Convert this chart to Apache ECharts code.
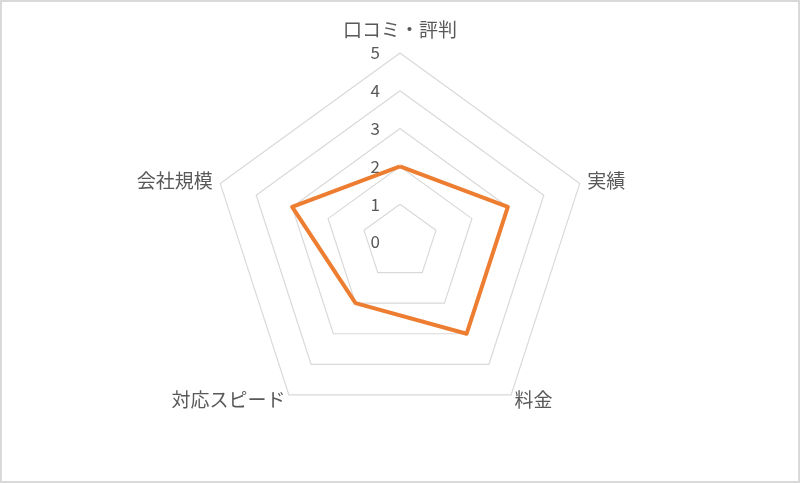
<!DOCTYPE html>
<html>
<head>
<meta charset="utf-8">
<script src="https://cdn.jsdelivr.net/npm/echarts@6/dist/echarts.min.js"></script>
<style>
  html, body { margin: 0; padding: 0; background: #fff; }
  #chart { width: 800px; height: 483px; box-sizing: border-box; border: 2px solid #d9d9d9; }
</style>
</head>
<body>
<div id="chart"></div>
<script>
  // 項目と評価値（上から時計回り）
  var categories = ['口コミ・評判', '実績', '料金', '対応スピード', '会社規模'];
  var values = [2, 3, 3, 2, 3];
  var maxValue = 5;
  var nameGaps = [14, 8, 6, 6, 8];

  var myChart = echarts.init(document.getElementById('chart'));

  // echartsのレーダーは反時計回りなので、先頭以外を逆順にする
  var order = [0].concat(categories.map(function (c, i) { return i; }).slice(1).reverse());

  var indicators = order.map(function (i) {
    var item = { name: categories[i], max: maxValue, min: 0, nameGap: nameGaps[i] };
    // 目盛りラベルは先頭の軸だけに出す
    item.axisLabel = { show: i === 0 };
    return item;
  });
  var seriesValues = order.map(function (i) { return values[i]; });

  var option = {
    animation: false,
    textStyle: { fontFamily: 'Noto Sans CJK JP' },
    radar: {
      center: [398, 240],
      radius: 189,
      startAngle: 90,
      splitNumber: 5,
      shape: 'polygon',
      indicator: indicators,
      axisName: {
        color: '#595959',
        fontSize: 19,
        fontFamily: 'Noto Sans CJK JP'
      },
      axisLine: { show: false },
      axisTick: { show: false },
      splitLine: { lineStyle: { color: '#d9d9d9', width: 1.2 } },
      splitArea: { show: false },
      axisLabel: {
        show: false,
        showMinLabel: true,
        showMaxLabel: true,
        color: '#595959',
        fontSize: 17,
        margin: 20,
        fontFamily: 'Noto Sans CJK JP'
      }
    },
    series: [{
      type: 'radar',
      symbol: 'none',
      lineStyle: { color: '#ED7D31', width: 4 },
      data: [{ value: seriesValues, name: '評価' }]
    }]
  };

  myChart.setOption(option);
</script>
</body>
</html>
